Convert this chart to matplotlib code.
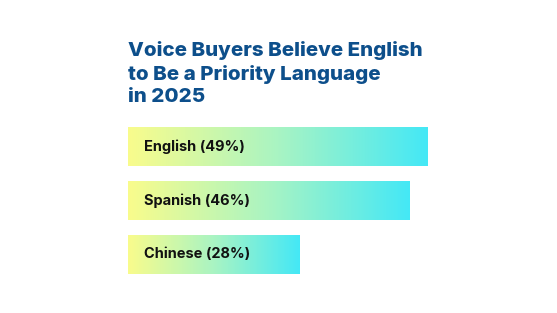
import numpy as np
import matplotlib.pyplot as plt
from matplotlib.colors import LinearSegmentedColormap

title = "Voice Buyers Believe English\nto Be a Priority Language\nin 2025"
languages = ['English', 'Spanish', 'Chinese']
shares = [49, 46, 28]

W, H = 557, 313
fig = plt.figure(figsize=(W / 100, H / 100), dpi=100)
ax = fig.add_axes([0, 0, 1, 1])
ax.axis('off')

cmap = LinearSegmentedColormap.from_list('yc', ['#F9FC8C', '#A9F4C3', '#44E8F6'])
grad = np.linspace(0, 1, 256).reshape(1, -1)

# pixel layout: 0% at x=128, 49% at x=428; bars every 54px starting at y=146.5
px_per = 300 / 49
for i, (lang, v) in enumerate(zip(languages, shares)):
    ax.imshow(grad, cmap=cmap, aspect='auto', extent=(0, v, i + 0.36, i - 0.36),
              interpolation='bicubic')
    ax.text(16 / px_per, i, f'{lang} ({v}%)', va='center', ha='left',
            fontsize=10.5, fontweight='bold', family='Inter', color='#111111')

ax.set_xlim(-128 / px_per, (W - 128) / px_per)
ax.set_ylim((H - 146.5) / 54, -146.5 / 54)

fig.text(128 / W, 1 - 41 / H, title, ha='left', va='top', fontsize=14.8,
         fontweight='heavy', family='Inter', color='#0D4F8B', linespacing=1.3)

fig.savefig('out.png', dpi=100)
